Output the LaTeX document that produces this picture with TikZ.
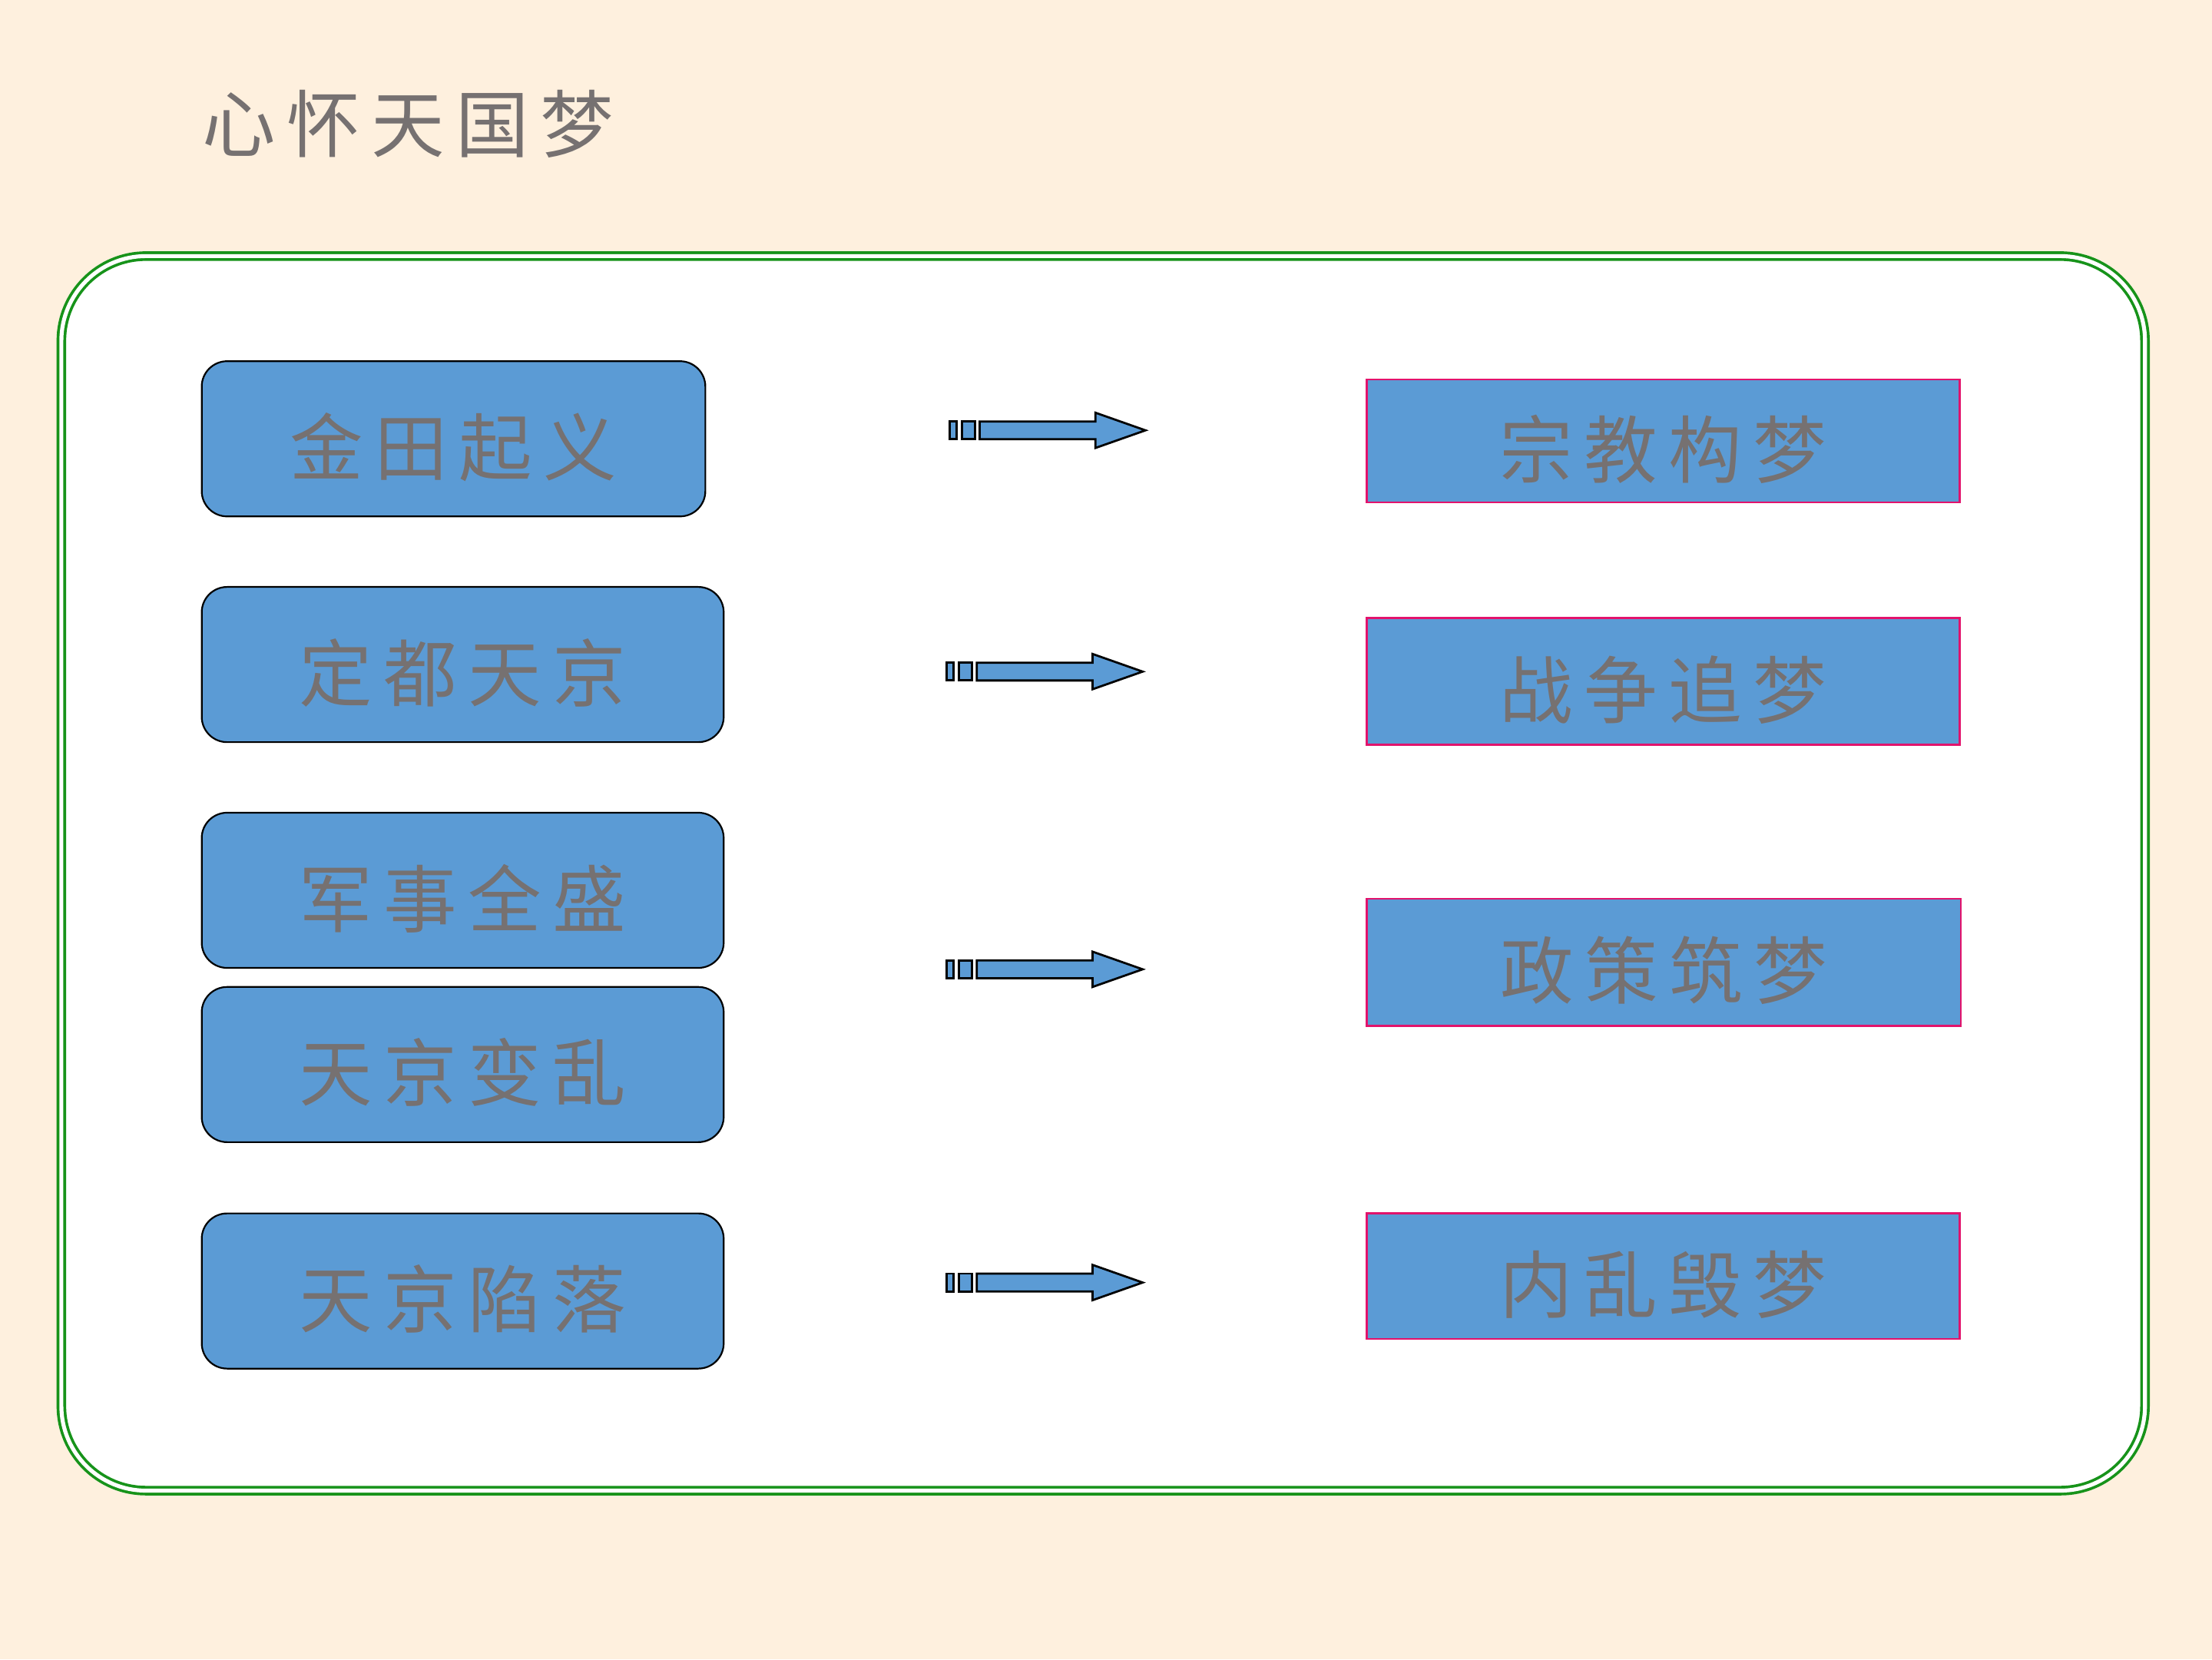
\documentclass[tikz,border=0pt]{standalone}
\usepackage{fontspec}
\usepackage{xcolor}
\usepackage{tikz}
\usetikzlibrary{positioning}
\newfontfamily\cjk[LetterSpace=15]{Noto Sans CJK SC}
\definecolor{creamx}{HTML}{FEF0DE}
\definecolor{greenx}{HTML}{17931A}
\definecolor{bluex}{HTML}{5B9BD5}
\definecolor{grayx}{HTML}{767171}
\definecolor{rosex}{HTML}{E2136C}
\tikzset{
  frame/.style={draw=greenx,line width=0.2mm,double=white,double distance=0.28mm,rounded corners=6mm,fill=white},
  txt/.style={text=grayx,font=\cjk\fontsize{14.8pt}{16pt}\selectfont,inner sep=0pt},
  btxt/.style={txt,text height=16pt,text depth=1.4pt},
  ebox/.style={btxt,draw=black,line width=0.12mm,rounded corners=1.8mm,fill=bluex,minimum height=11mm,minimum width=37mm},
  mbox/.style={btxt,draw=rosex,line width=0.15mm,fill=bluex,minimum height=9mm,minimum width=42mm},
  ar/.style={draw=black,line width=0.15mm,fill=bluex,line join=miter}
}
\newcommand{\blockarrow}[1]{%
  \begin{scope}[shift={(#1)}]
    \draw[ar] (0,-6.3) rectangle (4.9,6.3);
    \draw[ar] (8.8,-6.3) rectangle (18.1,6.3);
    \draw[ar] (21.4,-6.3) -- (103.5,-6.3) -- (103.5,-12.5) -- (139,0) -- (103.5,12.5) -- (103.5,6.3) -- (21.4,6.3) -- cycle;
  \end{scope}}

\begin{document}
\begin{tikzpicture}[x=0.1mm,y=-0.1mm]
\fill[creamx] (0,0) rectangle (1568,1176);
\useasboundingbox (0,0) rectangle (1568,1176);
\node[txt,anchor=west] (title) at (143,88) {心怀天国梦};
\draw[frame] (43.5,181.5) rectangle (1520.5,1056.5);
% events
\node[ebox,minimum width=35.7mm] (e1) at (321.5,311) {金田起义};
\node[ebox] (e2) at (328,471) {定都天京};
\node[ebox] (e3) at (328,631) {军事全盛};
\node[ebox] (e4) at (328,754.5) {天京变乱};
\node[ebox] (e5) at (328,915) {天京陷落};
% dreams
\node[mbox,minimum height=8.7mm] (m1) at (1179,312.5) {宗教构梦};
\node[mbox] (m2) at (1179,483) {战争追梦};
\node[mbox,minimum width=42.1mm] (m3) at (1179.5,682) {政策筑梦};
\node[mbox,minimum height=8.9mm] (m4) at (1179,904.5) {内乱毁梦};
% arrows
\coordinate (c1) at (673,305);
\coordinate (c2) at (671,476);
\coordinate (c3) at (671,687);
\coordinate (c4) at (671,909);
\foreach \c in {c1,c2,c3,c4} {\blockarrow{\c}}
\end{tikzpicture}
\end{document}
